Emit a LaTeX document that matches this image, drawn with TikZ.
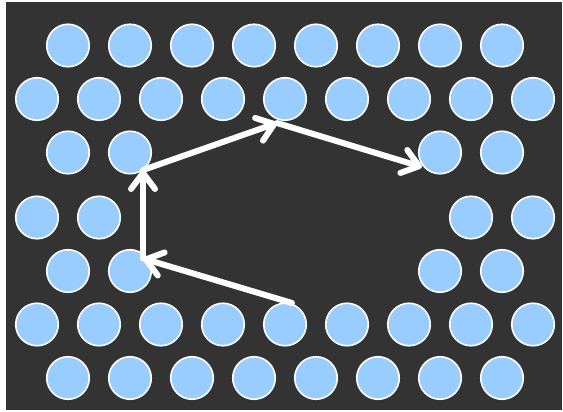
\documentclass[tikz,border=0pt]{standalone}
\usetikzlibrary{arrows.meta}
\definecolor{bgdark}{HTML}{333333}
\definecolor{holeblue}{HTML}{99CCFF}
\begin{document}
\begin{tikzpicture}[x=1pt,y=-1pt,
  hole/.style={circle,fill=holeblue,draw=white,line width=1.6pt,minimum size=42.5pt,inner sep=0pt},
  path arrow/.style={white,line width=6pt,line cap=round,
    -{Straight Barb[length=16pt,width=24pt,line cap=round,round]}}]
\useasboundingbox (0,0) rectangle (563,412);
\fill[white] (0,0) rectangle (563,412);
\fill[bgdark] (6,2) rectangle (562,410);
% row 1 (odd, 8 holes)
\foreach \k in {0,...,7} \node[hole] (r1c\k) at ({68+62*\k},45.5) {};
% row 2 (even, 9 holes)
\foreach \k in {0,...,8} \node[hole] (r2c\k) at ({37+62*\k},99) {};
% row 3
\foreach \k in {0,1,6,7} \node[hole] (r3c\k) at ({68+62*\k},152.5) {};
% row 4
\foreach \k in {0,1,7,8} \node[hole] (r4c\k) at ({37+62*\k},217.5) {};
% row 5
\foreach \k in {0,1,6,7} \node[hole] (r5c\k) at ({68+62*\k},271) {};
% row 6
\foreach \k in {0,...,8} \node[hole] (r6c\k) at ({37+62*\k},324.5) {};
% row 7
\foreach \k in {0,...,7} \node[hole] (r7c\k) at ({68+62*\k},378) {};
% path
\coordinate (p0) at (292,303);
\coordinate (p1) at (143,258.5);
\coordinate (p2) at (143,170);
\coordinate (p3) at (277,123);
\coordinate (p4) at (422,167);
\draw[path arrow] (p0) -- (p1);
\draw[path arrow] (p1) -- (p2);
\draw[path arrow] (p2) -- (p3);
\draw[path arrow] (p3) -- (p4);
\end{tikzpicture}
\end{document}
